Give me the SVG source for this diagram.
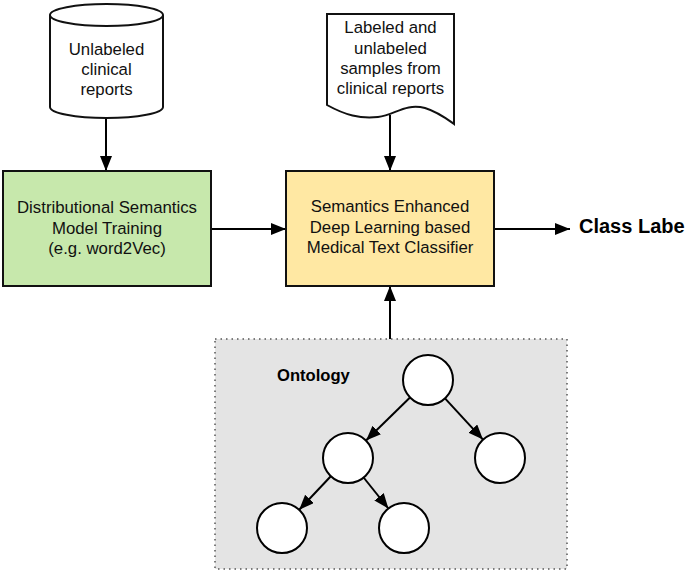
<svg xmlns="http://www.w3.org/2000/svg" width="690" height="581" viewBox="0 0 690 581">
<style>
.t{font-family:"Liberation Sans",Arial,sans-serif;font-size:16.8px;fill:#111;text-anchor:middle}
.b{font-family:"Liberation Sans",Arial,sans-serif;font-weight:bold;fill:#000}
.box{stroke:#111;stroke-width:2}
.edge{stroke:#000;stroke-width:2;fill:none;marker-end:url(#ah)}
.c{fill:#fff;stroke:#000;stroke-width:2}
</style>
<defs>
<marker id="ah" markerUnits="userSpaceOnUse" markerWidth="16" markerHeight="12" refX="15" refY="6" orient="auto">
<path d="M0,0 L15,6 L0,12 Z" fill="#000"/>
</marker>
</defs>
<rect width="690" height="581" fill="#fff"/>
<g id="ontology">
<rect x="215" y="339" width="352" height="230" fill="#e4e4e4" stroke="#555" stroke-width="1.5" stroke-dasharray="1.5,4"/>
<text class="b" x="277" y="381" font-size="16.6">Ontology</text>
</g>
<g id="edges">
<line class="edge" x1="106" y1="118" x2="106" y2="171"/>
<line class="edge" x1="390" y1="115" x2="390" y2="171"/>
<line class="edge" x1="211" y1="229" x2="286" y2="229"/>
<line class="edge" x1="494" y1="229" x2="570" y2="229"/>
<line class="edge" x1="390" y1="339" x2="390" y2="286"/>
<line class="edge" x1="410" y1="397.5" x2="366" y2="440.5"/>
<line class="edge" x1="445" y1="398.4" x2="483" y2="439.6"/>
<line class="edge" x1="330.8" y1="476.2" x2="299.2" y2="509.8"/>
<line class="edge" x1="363.6" y1="477.5" x2="388.4" y2="508.5"/>
</g>
<g id="unlabeled-reports">
<path class="box" fill="#fff" d="M50,15 L50,107 A56.5,11 0 0 0 163,107 L163,15 A56.5,11 0 0 0 50,15 A56.5,11 0 0 0 163,15"/>
<text class="t" x="106.5" y="55">Unlabeled</text>
<text class="t" x="106.5" y="75">clinical</text>
<text class="t" x="106.5" y="95">reports</text>
</g>
<g id="labeled-samples">
<path class="box" fill="#fff" d="M327,14 L454,14 L454,124 C447,119 438,112 425,108 C405,103 395,115 378,117 C360,119 345,115 327,105 Z"/>
<text class="t" x="390.5" y="33">Labeled and</text>
<text class="t" x="390.5" y="54">unlabeled</text>
<text class="t" x="390.5" y="74">samples from</text>
<text class="t" x="390.5" y="94">clinical reports</text>
</g>
<g id="distributional">
<rect class="box" x="3" y="171" width="208" height="115" fill="#c7e8ac"/>
<text class="t" x="107" y="213">Distributional Semantics</text>
<text class="t" x="107" y="233.5">Model Training</text>
<text class="t" x="107" y="254">(e.g. word2Vec)</text>
</g>
<g id="classifier">
<rect class="box" x="286" y="171" width="208" height="115" fill="#ffe8a3"/>
<text class="t" x="390" y="212">Semantics Enhanced</text>
<text class="t" x="390" y="232.5">Deep Learning based</text>
<text class="t" x="390" y="253">Medical Text Classifier</text>
</g>
<g id="class-label">
<text class="b" x="579" y="233" font-size="20">Class Labe</text>
</g>
<g id="onto-root"><circle class="c" cx="428" cy="380" r="25"/></g>
<g id="onto-mid-left"><circle class="c" cx="348" cy="458" r="25"/></g>
<g id="onto-right"><circle class="c" cx="500" cy="458" r="25"/></g>
<g id="onto-bottom-left"><circle class="c" cx="282" cy="528" r="25"/></g>
<g id="onto-bottom-mid"><circle class="c" cx="404" cy="528" r="25"/></g>
</svg>
